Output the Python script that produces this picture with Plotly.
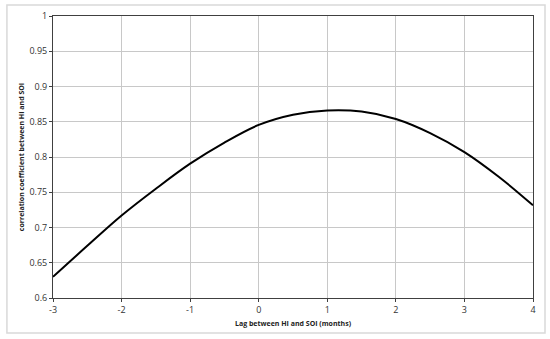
import plotly.graph_objects as go

# lag in months and correlation
lag = [-3, -2.5, -2, -1.5, -1, -0.5, 0, 0.5, 1, 1.5, 2, 2.5, 3, 3.5, 4]
corr = [0.630, 0.674, 0.717, 0.755, 0.7905, 0.8205, 0.8455, 0.860, 0.866,
        0.8645, 0.854, 0.834, 0.807, 0.772, 0.7315]

x_ticks = [-3, -2, -1, 0, 1, 2, 3, 4]
x_labels = ["-3", "-2", "-1", "0", "1", "2", "3", "4"]
y_ticks = [0.6, 0.65, 0.7, 0.75, 0.8, 0.85, 0.9, 0.95, 1]
y_labels = ["0.6", "0.65", "0.7", "0.75", "0.8", "0.85", "0.9", "0.95", "1"]

fig = go.Figure(go.Scatter(
    x=lag, y=corr, mode="lines",
    line=dict(color="black", width=2, shape="spline", smoothing=1),
    hoverinfo="skip"
))

axis_font = dict(family="Open Sans, Liberation Sans, sans-serif", size=9, color="#333333")
title_font = dict(family="Open Sans, Liberation Sans, sans-serif", size=7, color="#222222")

fig.update_xaxes(
    range=[-3, 4], tickvals=x_ticks, ticktext=x_labels, showgrid=True,
    gridcolor="#c8c8c8", gridwidth=1,
    showline=True, linecolor="#404040", linewidth=1, mirror=True,
    ticks="outside", ticklen=3, tickcolor="#404040", zeroline=False,
    tickfont=axis_font, automargin=False,
    title=dict(text="<b>Lag between HI and SOI (months)</b>", standoff=6, font=title_font)
)
fig.update_yaxes(
    range=[0.6, 1], tickvals=y_ticks, ticktext=y_labels, showgrid=True,
    gridcolor="#c8c8c8", gridwidth=1,
    showline=True, linecolor="#404040", linewidth=1, mirror=True,
    ticks="outside", ticklen=3, tickcolor="#404040", zeroline=False,
    tickfont=axis_font, automargin=False,
    title=dict(text="<b>correlation coefficient between HI and SOI</b>", standoff=3,
               font=title_font)
)

# light outer chart frame
fig.add_shape(type="rect", xref="paper", yref="paper",
              x0=-0.096, x1=1.025, y0=-0.124, y1=1.039,
              line=dict(color="#d9d9d9", width=1.5), layer="below")

fig.update_layout(
    width=550, height=339,
    margin=dict(l=53, r=17, t=16, b=41, autoexpand=False),
    plot_bgcolor="white", paper_bgcolor="white",
    showlegend=False
)

# page body has a default 8px margin, drop it so the figure fills the window
fig.write_html("out.html", config={"displayModeBar": False},
               post_script="document.body.style.margin='0';")
